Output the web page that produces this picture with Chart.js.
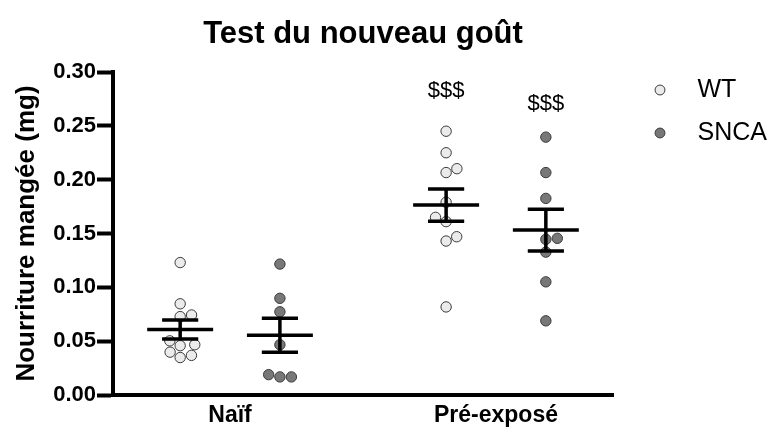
<!DOCTYPE html>
<html>
<head>
<meta charset="utf-8">
<script src="https://cdn.jsdelivr.net/npm/chart.js@4.4.1/dist/chart.umd.min.js"></script>
<style>
  body { margin: 0; background: #fff; }
  #wrap { width: 772px; height: 437px; }
</style>
</head>
<body>
<div id="wrap"><canvas id="chartGout"></canvas></div>
<script>
// valeurs (mg)
const categories = ['Naïf', 'Pré-exposé'];
const seriesNames = ['WT', 'SNCA'];
const wtNaif = [0.123, 0.0847, 0.0728, 0.0743, 0.0503, 0.0467, 0.0458, 0.0398, 0.0368, 0.0348];
const wtPre = [0.245, 0.225, 0.2066, 0.2102, 0.179, 0.161, 0.165, 0.147, 0.143, 0.0818];
const sncaNaif = [0.1216, 0.0898, 0.0773, 0.0467, 0.0189, 0.0168, 0.0168];
const sncaPre = [0.2395, 0.2066, 0.1826, 0.1455, 0.1446, 0.1327, 0.1051, 0.0689];
const yTickValues = [0, 0.05, 0.10, 0.15, 0.20, 0.25, 0.30];
const sigLabels = [['', '$$$'], ['', '$$$']]; // [serie][categorie]

const FONT = '"Liberation Sans", Arial, Helvetica, sans-serif';
const OFFSET = 0.1875;      // decalage WT / SNCA autour de la categorie
const MEAN_HALF = 0.124;
const CAP_HALF = 0.068;

function meanSem(vals) {
    const n = vals.length;
    const m = vals.reduce((a, b) => a + b, 0) / n;
    const sd = Math.sqrt(vals.reduce((a, v) => a + (v - m) * (v - m), 0) / (n - 1));
    return { m: m, sem: sd / Math.sqrt(n) };
}

// petit beeswarm : on ecarte les points qui se chevauchent
function swarm(vals, center) {
    const X_PX = 266, Y_PX = 1112, D = 11.5;
    const placed = [];
    const xs = new Array(vals.length);
    const idx = vals.map((v, i) => i).sort((a, b) => vals[a] - vals[b]);
    let side = 1;
    idx.forEach(i => {
        const py = vals[i] * Y_PX;
        const cands = [0];
        placed.forEach(p => {
            const dy = Math.abs(p.py - py);
            if (dy < D) {
                const dx = Math.sqrt(D * D - dy * dy);
                cands.push(p.px + dx, p.px - dx);
            }
        });
        cands.sort((a, b) => (Math.abs(a) - Math.abs(b)) || (side * (b - a)));
        const px = cands.find(c => placed.every(p => (p.px - c) ** 2 + (p.py - py) ** 2 >= D * D - 0.01));
        if (px !== 0) side = -Math.sign(px);
        placed.push({ px: px, py: py });
        xs[i] = center + px / X_PX;
    });
    return vals.map((v, i) => ({ x: xs[i], y: v }));
}

function barsFor(groups, shift) {
    const pts = [];
    groups.forEach((vals, c) => {
        const cx = c + 1 + shift;
        const s = meanSem(vals);
        const gap = { x: cx, y: null };
        pts.push({ x: cx - MEAN_HALF, y: s.m }, { x: cx + MEAN_HALF, y: s.m }, gap);
        pts.push({ x: cx - CAP_HALF, y: s.m + s.sem }, { x: cx + CAP_HALF, y: s.m + s.sem }, gap);
        pts.push({ x: cx - CAP_HALF, y: s.m - s.sem }, { x: cx + CAP_HALF, y: s.m - s.sem }, gap);
        pts.push({ x: cx, y: s.m + s.sem }, { x: cx, y: s.m - s.sem }, gap);
    });
    return pts;
}

const wtGroups = [wtNaif, wtPre];
const sncaGroups = [sncaNaif, sncaPre];

const sigPlugin = {
    id: 'sigPlugin',
    afterDatasetsDraw(chart) {
        const ctx = chart.ctx;
        const xs = chart.scales.x, ys = chart.scales.y;
        const levels = [0.282, 0.2705];
        ctx.save();
        ctx.font = '22px ' + FONT;
        ctx.fillStyle = '#000';
        ctx.textAlign = 'center';
        ctx.textBaseline = 'middle';
        sigLabels.forEach((row, s) => {
            row.forEach((txt, c) => {
                if (!txt) return;
                const x = xs.getPixelForValue(c + 1 + (s === 0 ? -OFFSET : OFFSET));
                ctx.fillText(txt, x, ys.getPixelForValue(levels[s]));
            });
        });
        ctx.restore();
    }
};

const ctx = document.getElementById('chartGout').getContext('2d');
new Chart(ctx, {
    type: 'scatter',
    data: {
        datasets: [
            {
                label: seriesNames[0],
                data: wtGroups.flatMap((g, c) => swarm(g, c + 1 - OFFSET)),
                backgroundColor: '#ebebeb',
                borderColor: '#3a3a3a',
                borderWidth: 1,
                pointRadius: 5.2,
                pointHoverRadius: 5.2,
                order: 1
            },
            {
                label: seriesNames[1],
                data: sncaGroups.flatMap((g, c) => swarm(g, c + 1 + OFFSET)),
                backgroundColor: '#787878',
                borderColor: '#3a3a3a',
                borderWidth: 1,
                pointRadius: 5.2,
                pointHoverRadius: 5.2,
                order: 1
            },
            {
                label: 'sem WT',
                data: barsFor(wtGroups, -OFFSET),
                showLine: true,
                spanGaps: false,
                borderColor: '#000',
                borderWidth: 3.5,
                borderCapStyle: 'butt',
                pointRadius: 0,
                order: 0
            },
            {
                label: 'sem SNCA',
                data: barsFor(sncaGroups, OFFSET),
                showLine: true,
                spanGaps: false,
                borderColor: '#000',
                borderWidth: 3.5,
                borderCapStyle: 'butt',
                pointRadius: 0,
                order: 0
            }
        ]
    },
    options: {
        responsive: true,
        maintainAspectRatio: false,
        animation: false,
        devicePixelRatio: 1,
        layout: { padding: { left: 0, right: 0, top: 0, bottom: 0 } },
        scales: {
            x: {
                type: 'linear',
                min: 0.56,
                max: 2.44,
                afterBuildTicks: s => { s.ticks = categories.map((c, i) => ({ value: i + 1 })); },
                ticks: {
                    callback: v => categories[v - 1],
                    color: '#000',
                    padding: 9.5,
                    maxRotation: 0,
                    font: { family: FONT, size: 23, weight: 'bold', lineHeight: 1 }
                },
                grid: { display: false, drawTicks: false },
                border: { display: true, color: '#000', width: 4 }
            },
            y: {
                min: 0,
                max: 0.30,
                afterBuildTicks: s => { s.ticks = yTickValues.map(v => ({ value: v })); },
                ticks: {
                    callback: v => v.toFixed(2),
                    color: '#000',
                    padding: 1,
                    font: { family: FONT, size: 22, weight: 'bold' }
                },
                grid: {
                    display: true,
                    drawOnChartArea: false,
                    drawTicks: true,
                    tickLength: 16,
                    tickWidth: 4,
                    tickColor: '#000',
                    color: '#000'
                },
                border: { display: true, color: '#000', width: 4 },
                title: {
                    display: true,
                    text: 'Nourriture mangée (mg)',
                    color: '#000',
                    padding: { top: 11, bottom: 10 },
                    font: { family: FONT, size: 26, weight: 'bold' }
                }
            },
            gap: {
                type: 'linear',
                position: 'right',
                display: true,
                grid: { display: false, drawTicks: false },
                ticks: { display: false },
                border: { display: false },
                afterFit: s => { s.width = 16.5; }
            }
        },
        plugins: {
            title: {
                display: true,
                text: 'Test du nouveau goût',
                color: '#000',
                fullSize: false,
                padding: { top: 15.5, bottom: 19.3 },
                font: { family: FONT, size: 31, weight: 'bold' }
            },
            legend: {
                position: 'right',
                align: 'start',
                fullSize: true,
                maxWidth: 142.5,
                title: { display: true, text: '', padding: { top: 45.1, bottom: 0 }, font: { size: 12, lineHeight: 1.2 } },
                labels: {
                    usePointStyle: true,
                    pointStyle: 'circle',
                    boxWidth: 25,
                    boxHeight: 7,
                    padding: 18,
                    color: '#000',
                    font: { family: FONT, size: 25 },
                    filter: item => item.datasetIndex < 2,
                    generateLabels: chart => Chart.defaults.plugins.legend.labels.generateLabels(chart)
                        .map(l => Object.assign(l, { text: '\u2002' + l.text }))
                }
            },
            tooltip: { enabled: false }
        }
    },
    plugins: [sigPlugin]
});
</script>
</body>
</html>
